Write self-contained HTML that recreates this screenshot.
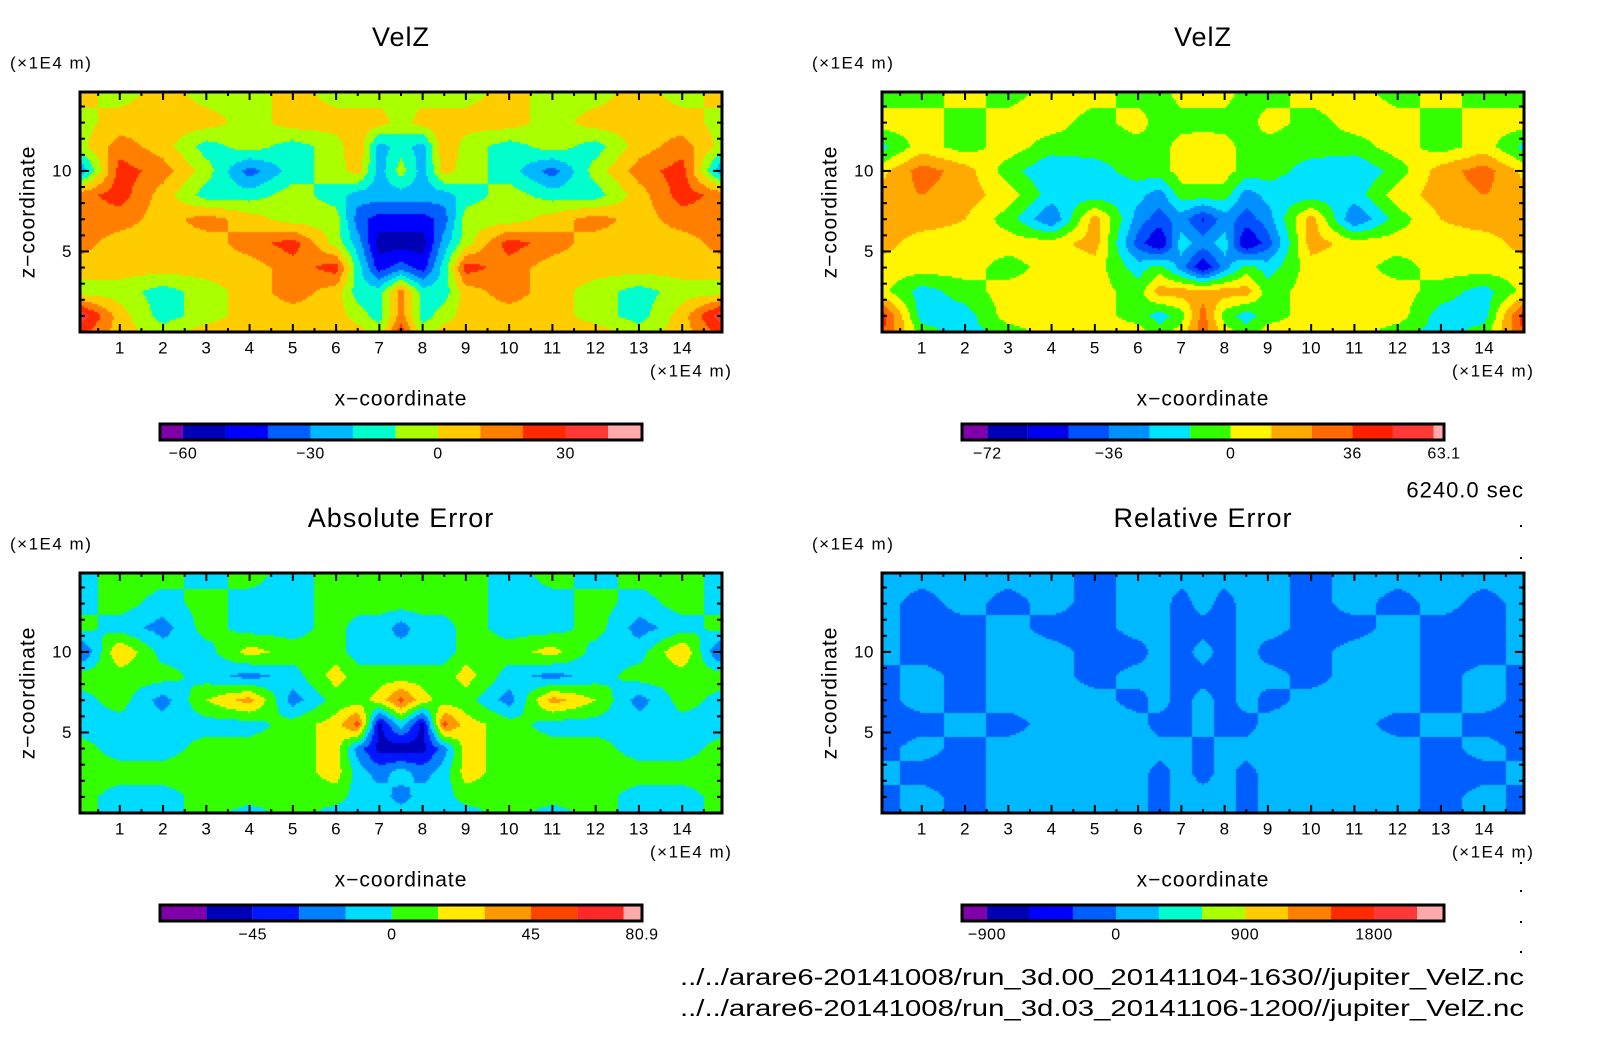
<!DOCTYPE html>
<html><head><meta charset="utf-8"><style>
html,body{margin:0;padding:0;background:#fff;}
body{width:1604px;height:1054px;position:relative;overflow:hidden;font-family:"Liberation Sans",sans-serif;}
canvas{position:absolute;left:0;top:0;}
svg{position:absolute;left:0;top:0;}
</style></head><body>
<canvas id="cv" width="1604" height="1054"></canvas>
<svg id="sv" width="1604" height="1054"></svg>
<script>
// grid (half-domain, mirrored about x=7.5)
const gridX = [0,1,2,3,4,5,6,6.5,7,7.5];
const gridZ = [14.9,13,11.5,10,8.5,7,5.5,4,2.5,1,0];
const velzA = [
[5,-5,5,-5,-5,5,-5,-5,-5,-5],
[-5,5,5,5,-5,5,5,5,5,-5],
[-5,15,5,-15,-5,-15,-5,10,-25,-15],
[-35,25,15,-5,-35,-15,-5,5,-25,-5],
[15,25,5,-15,-15,-5,-15,-25,-25,-25],
[15,15,5,15,5,-5,-5,-35,-45,-45],
[15,5,5,5,15,25,-5,-25,-55,-55],
[5,5,5,5,5,15,25,-15,-45,-35],
[-5,-5,-15,-5,5,15,5,-15,-15,15],
[40,5,-15,-5,5,5,5,-5,-15,15],
[25,5,-5,5,5,5,5,5,-5,25]];
const velzB = [
[-6,-6,6,-6,6,6,-6,-6,6,6],
[6,6,-6,6,6,-6,6,-6,-6,-6],
[-18,6,-6,6,-6,-6,-6,-6,6,10],
[6,30,18,-6,-24,-18,-6,-6,6,6],
[18,24,18,6,-18,-18,-20,-30,-6,-6],
[18,18,12,-6,-36,18,-30,-42,-30,-50],
[18,6,6,6,6,18,-42,-62,-18,-30],
[6,6,6,-6,6,6,-18,-6,-30,-60],
[6,-18,-6,6,6,6,-6,18,18,18],
[48,-18,-18,6,6,6,-6,-18,-6,30],
[42,-6,-18,-6,6,6,6,-6,6,30]];
const absErr = [
[-7,7,7,-7,7,-7,7,7,7,7],
[-7,7,-7,7,-7,-7,7,7,7,7],
[7,-7,-22,7,-7,-7,7,-7,-7,-22],
[-40,30,-7,-7,22,7,7,-7,-7,-7],
[7,7,7,-7,-22,-7,22,7,7,7],
[-7,7,-22,15,37,-22,7,7,22,50],
[-7,-7,-7,-7,-7,7,22,52,-50,-7],
[7,-7,-7,7,7,7,22,-22,-50,-55],
[7,7,7,7,7,7,22,-7,-22,-7],
[7,-7,-7,7,7,7,7,-7,-7,-22],
[7,-7,-7,7,-7,7,-7,-7,-7,-7]];
const relErr = [
[150,150,150,150,150,-150,150,150,150,150],
[150,-150,150,-150,150,-150,150,150,-150,150],
[150,-150,-150,150,-150,-150,150,150,-150,-150],
[150,-150,-150,150,150,-150,-150,150,-150,150],
[-150,150,-150,150,150,-150,150,150,-150,-150],
[-150,150,-150,150,150,150,-150,150,-150,150],
[-150,-150,150,-150,150,150,150,-150,-150,150],
[-150,150,-150,150,150,150,150,150,150,-150],
[150,-150,-150,150,150,150,150,-150,150,-150],
[-150,150,-150,150,150,150,150,-150,150,150],
[-150,150,-150,150,150,150,150,-150,150,150]];
// level thresholds
const levelsA = [-60,-50,-40,-30,-20,-10,0,10,20,30,40];
const levelsB = [-72,-60,-48,-36,-24,-12,0,12,24,36,48,60];
const levelsC = [-60,-45,-30,-15,0,15,30,45,60,75];
const levelsD = [-900,-600,-300,0,300,600,900,1200,1500,1800,2100];
const colorsA = ["#8000aa","#0000b4","#0000ff","#0060ff","#00b8ff","#00ffcc","#aaff00","#ffcc00","#ff8000","#ff2a00","#ff3838","#ffaaaa"];
const colorsB = ["#8000aa","#0000b4","#0000ef","#0050ff","#0090ff","#00e4ff","#33ff00","#fff500","#ffaa00","#ff6a00","#ff2000","#ff3838","#ffaaaa"];
const colorsC = ["#8000aa","#0000b8","#0018ff","#0080ff","#00dcff","#33ff00","#ffea00","#ff9900","#ff4400","#ff2828","#ffaaaa"];
const rangeA = [-65.4,48];
const rangeB = [-79.5,63.1];
const rangeC = [-75,80.9];
const rangeD = [-1074,2288];
const ticksA = ["-60","-30","0","30"], tickValsA=[-60,-30,0,30];
const ticksB = ["-72","-36","0","36","63.1"], tickValsB=[-72,-36,0,36,63.1];
const ticksC = ["-45","0","45","80.9"], tickValsC=[-45,0,45,80.9];
const ticksD = ["-900","0","900","1800"], tickValsD=[-900,0,900,1800];
const xTicks = [1,2,3,4,5,6,7,8,9,10,11,12,13,14];
const zTicks = [5,10];

const NS="http://www.w3.org/2000/svg";
const sv=document.getElementById('sv');
const ctx=document.getElementById('cv').getContext('2d');
function mk(tag,attrs,parent){const e=document.createElementNS(NS,tag);for(const k in attrs)e.setAttribute(k,attrs[k]);(parent||sv).appendChild(e);return e;}
function txt(s,x,y,size,anchor,parent,name,ls){const t=mk('text',{x:x,y:y,'font-size':size,'text-anchor':anchor||'middle','dominant-baseline':'central','font-family':'Liberation Sans, sans-serif',fill:'#000','letter-spacing':ls||0},parent);t.textContent=s;


return t;}

function interp(arr,gx,gz){
  let x=gx>7.5?15-gx:gx; x=Math.max(0,Math.min(7.5,x));
  let i=0; while(i<gridX.length-2 && x>gridX[i+1]) i++;
  const tx=(x-gridX[i])/(gridX[i+1]-gridX[i]);
  let z=Math.max(0,Math.min(14.9,gz));
  let j=0; while(j<gridZ.length-2 && z<gridZ[j+1]) j++;
  const tz=(gridZ[j]-z)/(gridZ[j]-gridZ[j+1]);
  const a=arr[j][i],b=arr[j][i+1],c=arr[j+1][i],d=arr[j+1][i+1];
  return (a*(1-tx)+b*tx)*(1-tz)+(c*(1-tx)+d*tx)*tz;
}
function colorFor(v,levels,colors){let k=0;while(k<levels.length&&v>=levels[k])k++;return colors[k];}

function panel(ox,oy,data,levels,colors,range,ticks,tickVals,title,name,cbY){
  const L=ox,T=oy,W=642,H=240,R=L+W,B=T+H;
  const xs=v=>L+(v-0.08)/(14.92-0.08)*W;
  const zs=v=>B-v/14.9*H;
  const g=mk('g',{});
  
  
  const cs=2;
  for(let py=T;py<B;py+=cs){for(let px=L;px<R;px+=cs){
    const gx=0.08+(px+cs/2-L)/W*(14.92-0.08);
    const gz=(B-(py+cs/2))/H*14.9;
    ctx.fillStyle=colorFor(interp(data,gx,gz),levels,colors);
    ctx.fillRect(px,py,cs,cs);
  }}
  mk('rect',{x:L,y:T,width:W,height:H,fill:'none',stroke:'#000','stroke-width':3},g);
  for(let v=0.5;v<15;v+=0.5){const major=Number.isInteger(v);const len=major?8:4;const x=xs(v);
    mk('line',{x1:x,y1:B,x2:x,y2:B-len,stroke:'#000','stroke-width':2},g);
    mk('line',{x1:x,y1:T,x2:x,y2:T+len,stroke:'#000','stroke-width':2},g);}
  for(let v=1;v<15;v++){const major=v%5==0;const len=major?9:5;const y=zs(v);
    mk('line',{x1:L,y1:y,x2:L+len,y2:y,stroke:'#000','stroke-width':2},g);
    mk('line',{x1:R,y1:y,x2:R-len,y2:y,stroke:'#000','stroke-width':2},g);}
  xTicks.forEach(v=>txt(String(v),xs(v),T+256,17,'middle',g,'x-tick-label',0.5));
  zTicks.forEach(v=>txt(String(v),L-8,zs(v),17,'end',g,'z-tick-label',0.5));
  txt(title,(L+R)/2,T-55,27,'middle',g,'plot-title',1);
  txt('(×1E4 m)',L-70,T-29,17,'start',g,'z-unit-label',1.5);
  txt('(×1E4 m)',R-72,T+279,17,'start',g,'x-unit-label',1.5);
  txt('x−coordinate',(L+R)/2,T+307,21,'middle',g,'x-axis-title',1);
  const zt=txt('z−coordinate',0,0,21,'middle',g,'z-axis-title',1);
  zt.setAttribute('transform','translate('+(L-52)+','+(T+H/2)+') rotate(-90)');
  const c0=L+80,c1=L+562;
  const cx=v=>c0+(v-range[0])/(range[1]-range[0])*(c1-c0);
  const bounds=[range[0]].concat(levels,[range[1]]);
  const cb=mk('g',{},g);
  
  
  for(let k=0;k<colors.length;k++){
    const r=mk('rect',{x:cx(bounds[k]),y:cbY,width:cx(bounds[k+1])-cx(bounds[k]),height:16,fill:colors[k]},cb);
    
    
  }
  mk('rect',{x:c0,y:cbY,width:c1-c0,height:16,fill:'none',stroke:'#000','stroke-width':3},cb);
  ticks.forEach((s,k)=>txt(s.replace('-','−'),cx(tickVals[k]),cbY+30,16,'middle',cb,'colorbar-tick-label',0.5));
}
panel(80,92,velzA,levelsA,colorsA,rangeA,ticksA,tickValsA,'VelZ','panel-velz-reference',424);
panel(882,92,velzB,levelsB,colorsB,rangeB,ticksB,tickValsB,'VelZ','panel-velz-compare',424);
panel(80,573,absErr,levelsC,colorsC,rangeC,ticksC,tickValsC,'Absolute Error','panel-absolute-error',905);
panel(882,573,relErr,levelsD,colorsA,rangeD,ticksD,tickValsD,'Relative Error','panel-relative-error',905);

txt('6240.0 sec',1524,490,22,'end',null,'time-label',1);
const p1=txt('../../arare6-20141008/run_3d.00_20141104-1630//jupiter_VelZ.nc',1524,977,23,'end',null,'file-path-1');
p1.setAttribute('textLength','844');
p1.setAttribute('lengthAdjust','spacingAndGlyphs');
const p2=txt('../../arare6-20141008/run_3d.03_20141106-1200//jupiter_VelZ.nc',1524,1008,23,'end',null,'file-path-2');
p2.setAttribute('textLength','844');
p2.setAttribute('lengthAdjust','spacingAndGlyphs');
[525,557,862,890,921,951].forEach(y=>{const d=mk('rect',{x:1520,y:y,width:2,height:2,fill:'#000'});

});
</script>
</body></html>
